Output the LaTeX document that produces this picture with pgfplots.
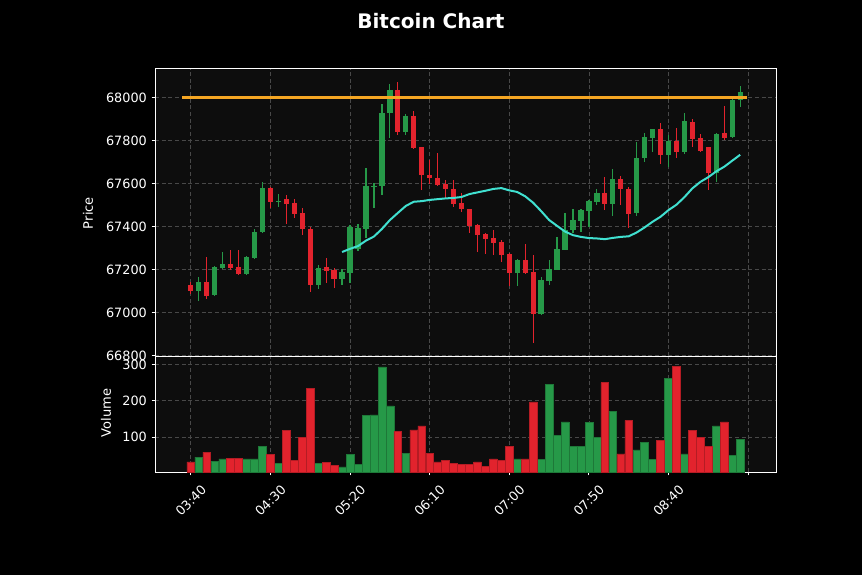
\documentclass[border=0pt]{standalone}
\usepackage{fontspec}
\setmainfont{DejaVu Sans}
\usepackage{pgfplots}
\pgfplotsset{compat=1.18}
\usepackage{pgfplotstable}
\definecolor{cup}{RGB}{38,153,72}
\definecolor{cupd}{RGB}{30,120,56}
\definecolor{cdn}{RGB}{226,35,45}
\definecolor{cdnd}{RGB}{180,28,36}
\definecolor{axbg}{RGB}{13,13,13}
\definecolor{gridc}{RGB}{72,72,72}
\definecolor{maline}{RGB}{64,224,208}
\definecolor{lvl}{RGB}{245,166,35}

% candles: index, open, high, low, close
\pgfplotstableread{
i o h l c
1 67100 67166 67054 67142
3 67080 67215 67077 67211
4 67205 67280 67200 67228
7 67177 67262 67174 67260
8 67254 67389 67251 67377
9 67372 67608 67369 67580
11 67515 67554 67492 67522
16 67129 67223 67112 67209
19 67155 67203 67129 67188
20 67185 67405 67135 67398
21 67298 67411 67287 67394
22 67389 67674 67349 67588
23 67585 67600 67484 67592
24 67589 67972 67546 67930
25 67930 68065 67814 68034
27 67840 67926 67825 67913
41 67185 67251 67123 67244
44 66992 67163 66988 67154
45 67147 67243 67127 67205
46 67200 67349 67197 67295
47 67293 67464 67290 67383
48 67383 67484 67372 67430
49 67426 67484 67375 67476
50 67474 67524 67400 67519
51 67516 67578 67501 67558
53 67504 67667 67447 67622
56 67462 67795 67450 67718
57 67718 67837 67702 67815
58 67815 67857 67749 67853
60 67733 67826 67679 67800
62 67749 67930 67741 67891
66 67650 67835 67608 67833
68 67817 67995 67814 67991
69 67991 68053 67957 68026
}\upc
\pgfplotstableread{
i o h l c
0 67131 67142 67085 67100
2 67142 67259 67062 67077
5 67228 67292 67200 67205
6 67211 67292 67172 67177
10 67580 67585 67485 67515
12 67528 67546 67413 67504
13 67510 67530 67442 67460
14 67464 67488 67360 67391
15 67391 67398 67096 67129
17 67212 67254 67135 67191
18 67197 67205 67116 67155
26 68034 68073 67825 67840
28 67913 67938 67763 67766
29 67771 67773 67572 67639
30 67642 67712 67597 67626
31 67628 67740 67588 67595
32 67597 67616 67530 67574
33 67577 67616 67489 67504
34 67507 67557 67468 67479
35 67479 67484 67371 67403
36 67406 67411 67282 67363
37 67365 67371 67275 67343
38 67347 67386 67267 67324
39 67329 67337 67236 67267
40 67271 67278 67123 67185
42 67244 67321 67181 67185
43 67188 67267 66856 66992
52 67558 67630 67475 67506
54 67622 67636 67501 67574
55 67575 67586 67392 67459
59 67853 67884 67691 67733
61 67800 67857 67718 67749
63 67890 67902 67771 67809
64 67814 67833 67747 67752
65 67771 67771 67569 67650
67 67836 67960 67802 67814
}\dnc
% moving average (20)
\pgfplotstableread{
i m
19 67281.1
20 67296.0
21 67308.6
22 67334.1
23 67353.2
24 67388.3
25 67429.7
26 67462.9
27 67495.5
28 67515.0
29 67517.9
30 67523.5
31 67527.1
32 67530.6
33 67532.8
34 67537.2
35 67550.9
36 67558.6
37 67566.2
38 67574.7
39 67578.6
40 67568.0
41 67560.5
42 67540.3
43 67510.3
44 67471.5
45 67430.1
46 67402.8
47 67376.3
48 67359.5
49 67351.4
50 67346.0
51 67344.2
52 67340.8
53 67346.7
54 67351.4
55 67354.2
56 67372.0
57 67395.6
58 67422.0
59 67445.3
60 67476.1
61 67501.3
62 67536.6
63 67577.5
64 67607.4
65 67629.6
66 67656.5
67 67678.1
68 67706.1
69 67733.6
}\ma
% volume
\pgfplotstableread{
i v
1 45
3 34
4 40
7 40
8 40
9 75
11 28
16 28
19 18
20 53
21 26
22 159
23 161
24 293
25 186
27 56
41 40
44 38
45 244
46 104
47 142
48 74
49 74
50 140
51 99
53 171
56 65
57 85
58 38
60 262
62 54
66 131
68 49
69 93
}\vup
\pgfplotstableread{
i v
0 32
2 59
5 42
6 42
10 53
12 119
13 35
14 100
15 235
17 31
18 23
26 115
28 120
29 131
30 56
31 32
32 35
33 28
34 26
35 26
36 32
37 20
38 40
39 35
40 75
42 40
43 197
52 250
54 54
55 146
59 91
61 294
63 118
64 100
65 74
67 142
}\vdn

\pgfplotsset{
  base/.style={
    scale only axis, anchor=south west,
    width=465.75pt,
    xmin=-4.5, xmax=73.5,
    axis background/.style={fill=axbg},
    axis line style={white, line width=0.75pt},
    grid=major,
    major grid style={gridc, line width=0.6pt, dash pattern=on 3pt off 2pt},
    tick align=outside,
    major tick length=2.6pt,
    ytick pos=left,
    y tick style={white, line width=0.75pt},
    ticklabel style={white, font=\fontsize{9.6}{11}\selectfont},
    scaled y ticks=false,
    yticklabel style={/pgf/number format/fixed, /pgf/number format/precision=0},
    /pgf/number format/1000 sep={},
    /pgf/number format/assume math mode=true,
    xtick={0,10,...,70},
  },
  wick/.style={draw=none, mark=none, forget plot,
    error bars/.cd, y dir=both, y explicit, error mark=none,
    error bar style={solid, line width=0.9pt, draw=#1}},
  body/.style={draw=none, mark=none, forget plot,
    error bars/.cd, y dir=both, y explicit, error mark=none,
    error bar style={solid, line width=4pt, draw=#1}},
}

\begin{document}
\begin{tikzpicture}[x=1pt,y=1pt]
\fill[black] (0,0) rectangle (646.5,431.25);
\path[use as bounding box] (0,0) rectangle (646.5,431.25);

\begin{axis}[base,
  at={(116.25pt,164.25pt)},
  height=215.25pt,
  ymin=66797, ymax=68133,
  ytick={66800,67000,67200,67400,67600,67800,68000},
  xticklabel=\empty,
  x tick style={draw=none},
  ylabel={Price},
  every axis y label/.style={at={(axis description cs:-0.1079,0.498)}, rotate=90, anchor=center, text=white, font=\fontsize{9.8}{11}\selectfont},
  title={Bitcoin Chart},
  title style={at={(axis description cs:0.4444,1.139)}, anchor=center, text=white, font=\fontsize{15}{18}\selectfont\bfseries},
]
\addplot[wick=cup] table[x=i, y expr={(\thisrow{h}+\thisrow{l})/2}, y error expr={(\thisrow{h}-\thisrow{l})/2}] {\upc};
\addplot[wick=cdn] table[x=i, y expr={(\thisrow{h}+\thisrow{l})/2}, y error expr={(\thisrow{h}-\thisrow{l})/2}] {\dnc};
\addplot[body=cup] table[x=i, y expr={(\thisrow{o}+\thisrow{c})/2}, y error expr={(\thisrow{c}-\thisrow{o})/2}] {\upc};
\addplot[body=cdn] table[x=i, y expr={(\thisrow{o}+\thisrow{c})/2}, y error expr={(\thisrow{o}-\thisrow{c})/2}] {\dnc};
\addplot[maline, line width=1.5pt, mark=none] table[x=i, y=m] {\ma};
\addplot[lvl, line width=2pt, mark=none] coordinates {(-1.1,68000) (69.9,68000)};
\end{axis}

\begin{axis}[base,
  at={(116.25pt,77.25pt)},
  height=87pt,
  ymin=4, ymax=323,
  ytick={100,200,300},
  xticklabels={03:40,04:30,05:20,06:10,07:00,07:50,08:40,{}},
  xtick pos=bottom,
  x tick style={white, line width=0.75pt},
  xticklabel style={yshift=-18.75pt, rotate=45, anchor=center},
  ylabel={Volume},
  every axis y label/.style={at={(axis description cs:-0.0789,0.509)}, rotate=90, anchor=center, text=white, font=\fontsize{9.8}{11}\selectfont},
]
\addplot[ybar, bar width=0.98, bar shift=0pt, fill=cup, draw=cupd, line width=0.4pt] table[x=i, y=v] {\vup};
\addplot[ybar, bar width=0.98, bar shift=0pt, fill=cdn, draw=cdnd, line width=0.4pt] table[x=i, y=v] {\vdn};
\end{axis}
\end{tikzpicture}
\end{document}
